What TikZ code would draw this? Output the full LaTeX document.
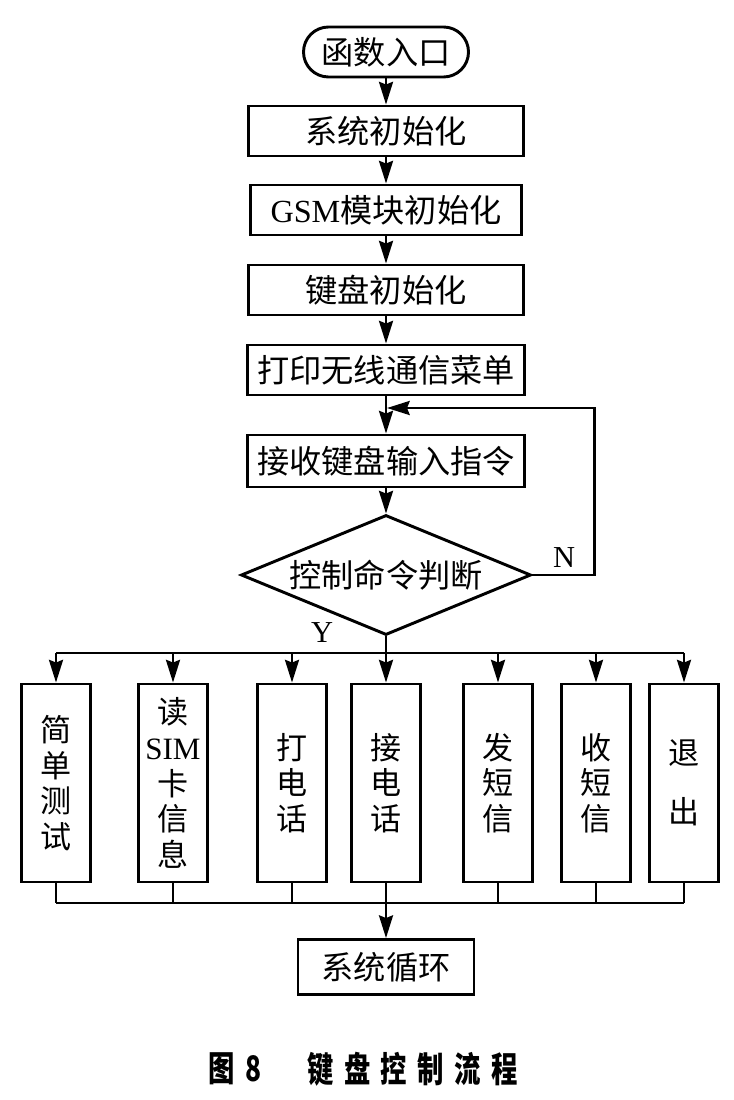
\documentclass[tikz,border=0pt]{standalone}
\usepackage{fontspec}
\setmainfont{Liberation Serif}
\newfontfamily\cjk{Noto Sans CJK SC}
\newfontfamily\capfont[LetterSpace=40]{Noto Sans CJK SC}
\usetikzlibrary{shapes.geometric,arrows.meta,calc}
\tikzset{
    proc/.style={rectangle, draw, line width=2.5pt, minimum width=8.25cm, minimum height=1.5cm, inner sep=0pt, font=\cjk\fontsize{27.5}{32}\selectfont},
    term/.style={proc, rounded corners=0.75cm, minimum width=4.95cm},
    decision/.style={diamond, draw, line width=2.5pt, aspect=2.4, minimum width=8.7cm, minimum height=3.6cm, inner sep=0pt, font=\cjk\fontsize{27.5}{32}\selectfont},
    vbox/.style={rectangle, draw, line width=2.5pt, minimum width=2.08cm, minimum height=5.94cm, inner sep=0pt, align=center, font=\cjk\fontsize{26.5}{30.5}\selectfont},
    link/.style={line width=2.3pt},
    arr/.style={link, -{Stealth[length=0.68cm, width=0.42cm, inset=0.08cm]}},
    yn/.style={inner sep=0pt, font=\fontsize{26}{30}\selectfont},
    caption/.style={anchor=west, inner sep=0pt, xscale=0.75, font=\capfont\bfseries\fontsize{30}{34}\selectfont},
}

\begin{document}
\begin{tikzpicture}[x=0.03cm, y=-0.03cm]
    \useasboundingbox (0,0) rectangle (734,1100);

    % main column
    \node[term] (entry) at (386,52) {函数入口};
    \node[proc] (sysinit) at (386,131) {系统初始化};
    \node[proc, minimum width=8.13cm] (gsminit) at (386,210) {{\rmfamily GSM}模块初始化};
    \node[proc] (keyinit) at (386,290) {键盘初始化};
    \node[proc, minimum width=8.31cm] (menu) at (386,370) {打印无线通信菜单};
    \node[proc, minimum width=8.31cm, minimum height=1.56cm] (getkey) at (386,461) {接收键盘输入指令};
    \node[decision] (judge) at (386,575) {控制命令判断};
    \foreach \a/\b in {entry/sysinit, sysinit/gsminit, gsminit/keyinit, keyinit/menu, menu/getkey, getkey/judge} {
        \draw[arr] (\a) -- (\b);
    }

    % back to input when no command
    \coordinate (back) at (387,408);
    \draw[arr] (judge.east) -- ++(62,0) |- (back);
    \node[yn] (nlab) at (564,558) {N};
    \node[yn] (ylab) at (322,633) {Y};

    % branches
    \coordinate (bus) at (386,653);
    \foreach \i/\x/\txt in {1/56/{简\\单\\测\\试}, 2/173/{读\\{\rmfamily SIM}\\卡\\信\\息}, 3/292/{打\\电\\话}, 4/386/{接\\电\\话}, 5/498/{发\\短\\信}, 6/596/{收\\短\\信}, 7/684/{退\\[0.69cm]出}} {
        \node[vbox] (c\i) at (\x,783) {\txt};
    }
    \draw[link] (c1.north |- bus) -- (c7.north |- bus);
    \draw[link] (judge.south) -- (bus);
    \foreach \i in {1,...,7} {
        \draw[arr] (c\i.north |- bus) -- (c\i.north);
    }

    % join and loop
    \coordinate (join) at (386,903);
    \node[proc, minimum width=5.28cm, minimum height=1.65cm] (sysloop) at (386,967) {系统循环};
    \foreach \i in {1,...,7} {
        \draw[link] (c\i.south) -- (c\i.south |- join);
    }
    \draw[link] (c1.south |- join) -- (c7.south |- join);
    \draw[arr] (join) -- (sysloop);

    % caption
    \node[caption] (fignum) at (208,1069) {图8};
    \node[caption] (figtitle) at (307,1069) {键盘控制流程};
\end{tikzpicture}
\end{document}
